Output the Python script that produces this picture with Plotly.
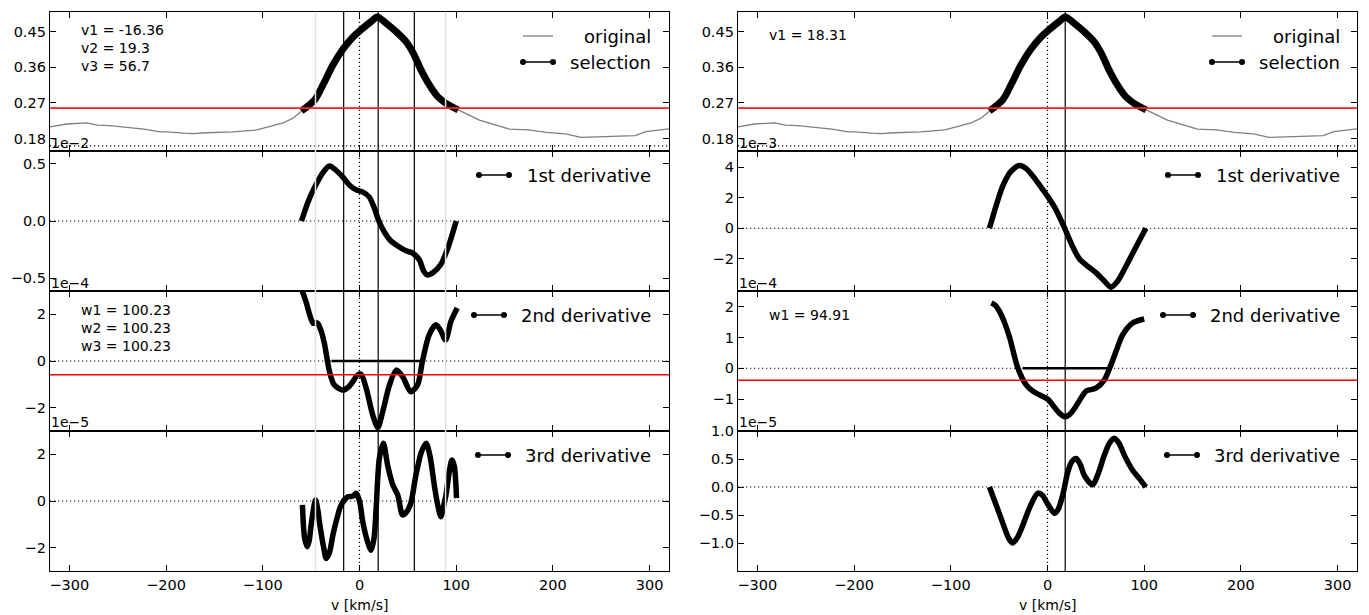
import numpy as np
import plotly.graph_objects as go

W, H = 1369, 615

# ---------------- data ----------------
v_spec = [-320, -303, -282, -271, -258, -241, -223, -206, -199, -182, -172, -158, -131, -106, -96, -79, -69,
          -60.1, -46.4, -37.8, -27.5, -17.2, -6.9, 3.4, 12, 18.3, 27.5, 37.8, 48.1, 55.7, 63.6, 72.2, 80.8, 89.4, 102,
          124, 155, 175, 193, 213, 229, 244, 285, 296, 316, 320]
flux_spec = [0.210, 0.217, 0.220, 0.214, 0.213, 0.209, 0.204, 0.197, 0.197, 0.194, 0.193, 0.195, 0.197, 0.202, 0.208, 0.220, 0.231,
             0.2498, 0.2776, 0.3154, 0.3658, 0.4053, 0.4356, 0.4583, 0.4750, 0.4865, 0.4709, 0.4497, 0.4245, 0.395, 0.3532, 0.3154, 0.2859, 0.2692, 0.2524,
             0.227, 0.204, 0.202, 0.196, 0.192, 0.1835, 0.185, 0.1876, 0.1977, 0.204, 0.205]
sel_range = [-61, 103]

# 1st derivative
v_d1_left = [-60, -53, -46, -38, -31, -24, -17, -10, -3, 4, 10, 15, 20, 26, 32, 40, 48, 55, 62, 66, 70, 76, 84, 92, 100]
d1_left = [0.0, 0.17, 0.30, 0.42, 0.48, 0.44, 0.38, 0.31, 0.27, 0.25, 0.21, 0.12, 0.0, -0.10, -0.17, -0.22, -0.26, -0.28,
           -0.34, -0.43, -0.47, -0.45, -0.38, -0.22, 0.0]
v_d1_right = [-60, -53, -46, -38, -29, -22, -15, -8, 0, 8, 18.3, 26, 33, 42, 50, 58, 65.6, 72, 81, 90, 101.7]
d1_right = [0.0, 1.5, 2.8, 3.7, 4.1, 3.9, 3.4, 2.8, 2.1, 1.3, -0.07, -1.2, -2.0, -2.5, -2.9, -3.4, -3.85, -3.5, -2.5, -1.4, 0.0]

# 2nd derivative
v_d2_left = [-60, -55, -51.5, -48, -45, -43, -39, -36, -31, -26, -17, -11, -7, -2, 1.7, 7, 13.7, 19, 24, 31, 38, 44.6, 53, 60,
             65, 72, 79, 84, 89, 94.5, 101]
d2_left = [3.1, 2.5, 1.98, 1.62, 1.65, 1.6, 1.2, 0.69, -0.46, -1.03, -1.25, -1.1, -0.89, -0.6, -0.57, -1.18, -2.32, -2.85, -2.18,
           -1.03, -0.39, -0.67, -1.32, -1.03, -0.03, 1.12, 1.55, 1.3, 0.9, 1.69, 2.27]
v_d2_right = [-58, -54, -49.5, -44, -39, -30.6, -22, -15, -8, 0, 5.5, 12, 18.3, 23, 28, 35, 40, 50, 58.8, 65.6, 72, 77.6, 88, 100]
d2_right = [2.12, 2.05, 1.84, 1.45, 0.98, 0.0, -0.54, -0.75, -0.87, -1.0, -1.2, -1.45, -1.58, -1.5, -1.3, -0.95, -0.74, -0.65,
            -0.38, 0.11, 0.65, 1.08, 1.47, 1.6]

# 3rd derivative
v_d3_left = [-59, -56.7, -54, -52, -50, -45.4, -43, -41, -37, -34.4, -31, -27.5, -23, -19, -12, -7, -3.4, 0, 3.4, 8, 12, 15,
             17.2, 20.6, 24.7, 29, 34.4, 39.5, 44.6, 49, 53, 58.4, 64, 68.8, 73, 77.3, 81, 84.2, 86.5, 89.4, 93, 95.6, 98, 100.3]
d3_left = [-0.17, -1.6, -1.96, -1.7, -1.03, 0.04, -0.4, -1.03, -2.0, -2.46, -2.2, -1.46, -0.7, -0.17, 0.18, 0.2, 0.33, 0.0,
           -0.89, -1.7, -2.11, -1.6, -0.31, 1.84, 2.48, 1.55, 0.69, 0.26, -0.60, -0.45, -0.10, 1.12, 2.1, 2.48, 1.9, 0.69,
           -0.2, -0.67, -0.3, 0.26, 1.3, 1.76, 1.5, 0.12]
v_d3_right = [-60, -48, -40, -36, -31, -25.5, -18, -10, -5, -1.3, 3, 7.2, 11, 15.8, 21, 25, 29.6, 34, 38, 46.7, 52, 58.8, 64,
              69, 74, 79.4, 88, 95, 101.7]
d3_right = [0.0, -0.56, -0.92, -1.0, -0.9, -0.68, -0.35, -0.11, -0.15, -0.26, -0.38, -0.47, -0.4, -0.14, 0.27, 0.45, 0.51,
            0.4, 0.21, 0.04, 0.22, 0.57, 0.78, 0.87, 0.78, 0.57, 0.30, 0.15, 0.0]

# markers / thresholds
v_lines_left = [-16.36, 19.3, 56.7]
v_lines_right = [18.31]
gray_lines_left = [-45.5, 89.0]
flux_threshold = 0.257
d2_threshold_left = -0.59
d2_threshold_right = -0.39
width_seg_left = [-29.0, 65.5]
width_seg_right = [-25.5, 62.0]
flux_zero_level = 0.162

texts_left_top = ["v1 = -16.36", "v2 = 19.3", "v3 = 56.7"]
texts_left_d2 = ["w1 = 100.23", "w2 = 100.23", "w3 = 100.23"]
texts_right_top = ["v1 = 18.31"]
texts_right_d2 = ["w1 = 94.91"]

xticks = [-300, -200, -100, 0, 100, 200, 300]
yticks = {
    1: [0.18, 0.27, 0.36, 0.45], 2: [-0.5, 0.0, 0.5], 3: [-2, 0, 2], 4: [-2, 0, 2],
    5: [0.18, 0.27, 0.36, 0.45], 6: [-2, 0, 2, 4], 7: [-1, 0, 1, 2], 8: [-1.0, -0.5, 0.0, 0.5, 1.0],
}
yranges = {
    1: [0.149, 0.50], 2: [-0.61, 0.61], 3: [-3.0, 3.0], 4: [-3.0, 3.0],
    5: [0.149, 0.50], 6: [-4.1, 5.05], 7: [-2.04, 2.51], 8: [-1.5, 1.0005],
}
yfmt = {1: ".2f", 2: ".1f", 3: "d", 4: "d", 5: ".2f", 6: "d", 7: "d", 8: ".1f"}
offset_texts = {0: ["1e\u22122", "1e\u22124", "1e\u22125"], 1: ["1e\u22123", "1e\u22124", "1e\u22125"]}
x_title = "v [km/s]"

# ---------------- layout helpers ----------------
FONT = "DejaVu Sans"
TICK_SIZE = 14.5
cols = [(50, 669), (738, 1357)]
rows = [(11.7, 151), (151, 291), (291, 431), (431, 571)]
DOT = "1.2px,2.8px"


def px(x):
    return x / W


def py(y):
    return 1 - y / H


fig = go.Figure()
layout = dict(width=W, height=H, margin=dict(l=0, r=0, t=0, b=0, autoexpand=False), paper_bgcolor="white",
              plot_bgcolor="white", showlegend=False, template="none",
              font=dict(family=FONT, size=14, color="black"))
shapes = []
annotations = []

for c in range(2):
    for r in range(4):
        k = c * 4 + r + 1
        sfx = "" if k == 1 else str(k)
        x0, x1 = cols[c]
        y0, y1 = rows[r]
        layout["xaxis" + sfx] = dict(
            domain=[px(x0), px(x1)], range=[-320, 320], anchor="y" + sfx, automargin=False,
            tickvals=xticks, ticks="inside", ticklen=6, tickwidth=1, tickcolor="black",
            showline=True, linecolor="black", linewidth=1.3, mirror="ticks",
            showgrid=False, zeroline=False, showticklabels=(r == 3),
            tickfont=dict(size=TICK_SIZE, family=FONT),
        )
        layout["yaxis" + sfx] = dict(
            domain=[py(y1), py(y0)], range=yranges[k], anchor="x" + sfx, automargin=False,
            tickvals=yticks[k], tickformat=yfmt[k], ticks="inside", ticklen=6, tickwidth=1, tickcolor="black",
            showline=True, linecolor="black", linewidth=1.3, mirror="ticks",
            showgrid=False, zeroline=False, tickfont=dict(size=TICK_SIZE, family=FONT),
        )

        xr, yr = "x" + sfx, "y" + sfx
        level = flux_zero_level if r == 0 else 0
        shapes.append(dict(type="line", xref=xr + " domain", yref=yr, x0=0, x1=1, y0=level, y1=level,
                           line=dict(color="black", width=1.2, dash=DOT)))
        shapes.append(dict(type="line", xref=xr, yref=yr + " domain", x0=0, x1=0, y0=0, y1=1,
                           line=dict(color="black", width=1.2, dash=DOT)))
        if c == 0:
            for g in gray_lines_left:
                shapes.append(dict(type="line", xref=xr, yref=yr + " domain", x0=g, x1=g, y0=0, y1=1,
                                   line=dict(color="#e2e2e2", width=1.5)))
        for vv in (v_lines_left if c == 0 else v_lines_right):
            shapes.append(dict(type="line", xref=xr, yref=yr + " domain", x0=vv, x1=vv, y0=0, y1=1,
                               line=dict(color="black", width=1.2)))
        if r == 0:
            shapes.append(dict(type="line", xref=xr + " domain", yref=yr, x0=0, x1=1, y0=flux_threshold,
                               y1=flux_threshold, line=dict(color="#ff2020", width=1.6)))
        if r == 2:
            thr = d2_threshold_left if c == 0 else d2_threshold_right
            shapes.append(dict(type="line", xref=xr + " domain", yref=yr, x0=0, x1=1, y0=thr, y1=thr,
                               line=dict(color="#ff0000", width=1.4)))
            seg = width_seg_left if c == 0 else width_seg_right
            shapes.append(dict(type="line", xref=xr, yref=yr, x0=seg[0], x1=seg[1], y0=0, y1=0,
                               line=dict(color="black", width=2.5)))
        if r < 3:
            yc = [143, 282.5, 421.5][r]
            annotations.append(dict(xref="paper", yref="paper", x=px(x0 - 1), y=py(yc), xanchor="left",
                                    yanchor="middle", text=offset_texts[c][r], showarrow=False,
                                    font=dict(size=14, family=FONT, color="black")))
        if r == 3:
            annotations.append(dict(xref="paper", yref="paper", x=px((x0 + x1) / 2), y=py(605), xanchor="center",
                                    yanchor="middle", text=x_title, showarrow=False,
                                    font=dict(size=14, family=FONT, color="black")))

# ---------------- traces ----------------
vs = np.array(v_spec)
fs = np.array(flux_spec)
mask = (vs >= sel_range[0]) & (vs <= sel_range[1])
for c in range(2):
    sfx = "" if c == 0 else "5"
    fig.add_trace(go.Scatter(x=vs, y=fs, mode="lines", line=dict(color="#7f7f7f", width=1.3),
                             xaxis="x" + sfx, yaxis="y" + sfx, hoverinfo="skip"))
    fig.add_trace(go.Scatter(x=vs[mask], y=fs[mask], mode="lines",
                             line=dict(color="black", width=7, shape="spline", smoothing=0.8),
                             xaxis="x" + sfx, yaxis="y" + sfx))

curves = [
    (2, v_d1_left, d1_left), (3, v_d2_left, d2_left), (4, v_d3_left, d3_left),
    (6, v_d1_right, d1_right), (7, v_d2_right, d2_right), (8, v_d3_right, d3_right),
]
for k, xv, yv in curves:
    fig.add_trace(go.Scatter(x=xv, y=yv, mode="lines",
                             line=dict(color="black", width=5.5, shape="spline", smoothing=0.8),
                             xaxis="x" + str(k), yaxis="y" + str(k)))


# ---------------- legends & texts ----------------
def legend_entry(xs, xe, yc, label, text_right, with_dots, color="black", width=1.5):
    shapes.append(dict(type="line", xref="paper", yref="paper", x0=px(xs), x1=px(xe), y0=py(yc), y1=py(yc),
                       line=dict(color=color, width=width)))
    if with_dots:
        for xx in (xs, xe):
            shapes.append(dict(type="circle", xref="paper", yref="paper", x0=px(xx - 3), x1=px(xx + 3),
                               y0=py(yc + 3), y1=py(yc - 3), fillcolor="black", line=dict(color="black", width=0)))
    annotations.append(dict(xref="paper", yref="paper", x=px(text_right), y=py(yc), xanchor="right",
                            yanchor="middle", text=label, showarrow=False,
                            font=dict(size=18, family=FONT, color="black")))


for c in range(2):
    tr = 653 if c == 0 else 1342
    off = 0 if c == 0 else 689
    legend_entry(523 + off, 553 + off, 36, "original", tr, False, color="#7f7f7f", width=1.3)
    legend_entry(523 + off, 553 + off, 62, "selection", tr, True)
    legend_entry(479 + off, 509 + off, 175, "1st derivative", tr, True)
    legend_entry(474 + off, 504 + off, 315, "2nd derivative", tr, True)
    legend_entry(478 + off, 508 + off, 455, "3rd derivative", tr, True)


def text_block(x, y_center, lines):
    annotations.append(dict(xref="paper", yref="paper", x=px(x), y=py(y_center), xanchor="left",
                            yanchor="middle", align="left", text="<br>".join(lines), showarrow=False,
                            font=dict(size=14, family=FONT, color="black")))


text_block(79, 48, texts_left_top)
text_block(79, 328, texts_left_d2)
text_block(767, 35, texts_right_top)
text_block(767, 315, texts_right_d2)

layout["shapes"] = shapes
layout["annotations"] = annotations
fig.update_layout(**layout)

fig.write_html("out.html", config={"displayModeBar": False},
               post_script="document.body.style.margin='0';document.body.style.overflow='hidden';")
